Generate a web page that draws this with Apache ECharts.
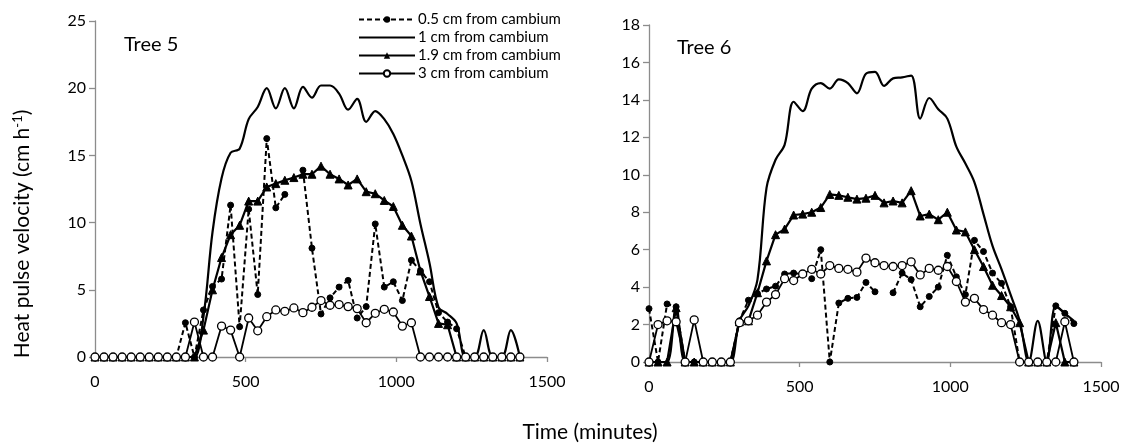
<!DOCTYPE html>
<html>
<head>
<meta charset="utf-8">
<script src="https://cdn.jsdelivr.net/npm/echarts@6/dist/echarts.min.js"></script>
<style>
  html, body { margin: 0; padding: 0; background: #fff; }
  #chart { width: 1131px; height: 447px; }
</style>
</head>
<body>
<div id="chart"></div>
<script>
// time of each reading (minutes)
var times = [0, 30, 60, 90, 120, 150, 180, 210, 240, 270, 300, 330, 360, 390, 420, 450,
  480, 510, 540, 570, 600, 630, 660, 690, 720, 750, 780, 810, 840, 870, 900, 930,
  960, 990, 1020, 1050, 1080, 1110, 1140, 1170, 1200, 1230, 1260, 1290, 1320, 1350, 1380, 1410];

var seriesNames = ['0.5 cm from cambium', '1 cm from cambium', '1.9 cm from cambium', '3 cm from cambium'];

// Tree 5
var tree5_05 = [0, 0, 0, 0, 0, 0, 0, 0, 0, 0, 2.55, 0, 3.5, 5.25, 5.8, 11.3,
  2.25, 11.0, 4.65, 16.25, 11.1, 12.1, null, 13.9, 8.1, 3.2, 4.4, 5.2, 5.7, 2.9, 3.75, 9.9,
  5.2, 5.6, 4.2, 7.2, 6.4, 5.6, 3.3, 2.6, 2.1, 0, 0, 0, 0, 0, 0, 0];
var tree5_1 = [0, 0, 0, 0, 0, 0, 0, 0, 0, 0, 0, 0, 3.0, 9.3, 13.3, 15.2,
  15.5, 17.7, 18.6, 20.0, 18.5, 20.0, 18.5, 20.1, 19.3, 20.2, 20.2, 19.6, 18.4, 19.2, 17.5, 18.3,
  17.7, 16.6, 15.0, 13.1, 9.9, 7.0, 3.7, 3.2, 2.5, 0, 0, 2.0, 0, 0, 2.0, 0];
var tree5_19 = [0, 0, 0, 0, 0, 0, 0, 0, 0, 0, 0, 0, 2.0, 5.0, 7.4, 9.1,
  9.8, 11.6, 11.6, 12.65, 12.9, 13.15, 13.35, 13.6, 13.6, 14.2, 13.6, 13.25, 12.8, 13.25, 12.3, 12.15,
  11.65, 11.2, 9.8, 9.0, 6.4, 4.5, 2.5, 2.4, 0, 0, 0, 0, 0, 0, 0, 0];
var tree5_3 = [0, 0, 0, 0, 0, 0, 0, 0, 0, 0, 0, 2.6, 0, 0, 2.3, 2.0,
  0, 2.9, 1.95, 3.0, 3.5, 3.4, 3.65, 3.3, 3.7, 4.2, 3.85, 3.9, 3.75, 3.6, 2.55, 3.25,
  3.55, 3.35, 2.3, 2.55, 0, 0, 0, 0, 0, 0, 0, 0, 0, 0, 0, 0];

// Tree 6
var tree6_05 = [2.85, 0, 3.1, 2.95, 0, 0, 0, 0, 0, 0, 2.2, 3.3, 3.65, 3.9, 4.05, 4.7,
  4.75, 4.7, 4.45, 6.0, 0, 3.15, 3.4, 3.45, 4.25, 3.75, null, 3.7, 4.75, 4.4, 2.95, 3.5,
  4.0, 5.7, 4.55, 3.6, 6.5, 5.9, 4.75, 4.2, 2.95, 0, 0, 0, 0, 3.0, 2.6, 2.05];
var tree6_1 = [0, 0, 0, 3.0, 0, 0, 0, 0, 0, 0, 2.2, 3.0, 4.4, 9.3, 10.8, 11.6,
  13.9, 13.4, 14.6, 14.9, 14.6, 15.1, 14.9, 14.35, 15.4, 15.5, 14.75, 15.15, 15.2, 15.3, 13.0, 14.1,
  13.5, 13.0, 11.5, 10.6, 9.6, 7.9, 6.2, 4.95, 3.6, 2.2, 0, 2.2, 0, 3.0, 2.6, 2.2];
var tree6_19 = [0, 0, 0, 2.9, 0, 0, 0, 0, 0, 0, 2.15, 2.2, 3.7, 5.4, 6.8, 7.1,
  7.85, 7.9, 8.0, 8.25, 8.95, 8.9, 8.8, 8.7, 8.75, 8.9, 8.5, 8.6, 8.5, 9.15, 7.8, 7.9,
  7.6, 8.0, 7.05, 6.95, 6.0, 5.1, 4.1, 3.55, 2.95, 2.1, 0, 0, 0, 2.1, 0, 0];
var tree6_3 = [0, 2.0, 2.2, 2.15, 0, 2.25, 0, 0, 0, 0, 2.1, 2.2, 2.5, 3.2, 3.6, 4.45,
  4.35, 4.7, 4.95, 4.7, 5.15, 5.0, 4.95, 4.8, 5.55, 5.3, 5.15, 5.1, 5.15, 5.35, 4.65, 5.0,
  4.9, 5.1, 4.3, 3.2, 3.4, 2.8, 2.5, 2.1, 2.0, 0, 0, 0, 0, 0, 2.15, 0];

var xTicks = [0, 500, 1000, 1500];

function pairs(vals) {
  return vals.map(function (v, i) { return [times[i], v]; });
}

var FONT = 'Lato';
var axisGray = '#8c8c8c';

// one set of four lines for a grid
function makeSeries(idx, vals) {
  return [
    {
      name: seriesNames[0], type: 'line', xAxisIndex: idx, yAxisIndex: idx,
      data: pairs(vals[0]),
      symbol: 'circle', symbolSize: 6,
      lineStyle: {color: '#000', width: 2, type: [5, 3]},
      itemStyle: {color: '#000', borderColor: '#000'},
      z: 2
    },
    {
      name: seriesNames[1], type: 'line', xAxisIndex: idx, yAxisIndex: idx,
      data: pairs(vals[1]),
      smooth: 0.35, symbol: 'none',
      lineStyle: {color: '#000', width: 2.2},
      itemStyle: {color: '#000'},
      z: 3
    },
    {
      name: seriesNames[2], type: 'line', xAxisIndex: idx, yAxisIndex: idx,
      data: pairs(vals[2]),
      symbol: 'triangle', symbolSize: 8,
      lineStyle: {color: '#000', width: 2.2},
      itemStyle: {color: '#000', borderColor: '#000'},
      z: 4
    },
    {
      name: seriesNames[3], type: 'line', xAxisIndex: idx, yAxisIndex: idx,
      data: pairs(vals[3]),
      symbol: 'circle', symbolSize: 8,
      lineStyle: {color: '#000', width: 1.8},
      itemStyle: {color: '#fff', borderColor: '#000', borderWidth: 1.3},
      z: 5
    }
  ];
}

function xAxisCfg(idx) {
  return {
    type: 'value', gridIndex: idx, min: 0, max: 1500, interval: 500,
    axisLine: {show: true, lineStyle: {color: axisGray, width: 1.3}},
    axisTick: {show: true, inside: false, length: 5, lineStyle: {color: axisGray, width: 1.3}},
    axisLabel: {color: '#000', fontFamily: FONT, fontSize: 16, margin: 17,
      formatter: function (v) { return xTicks.indexOf(v) >= 0 ? String(v) : ''; }},
    splitLine: {show: false}
  };
}

function yAxisCfg(idx, max, step) {
  return {
    type: 'value', gridIndex: idx, min: 0, max: max, interval: step,
    axisLine: {show: true, lineStyle: {color: axisGray, width: 1.3}},
    axisTick: {show: true, inside: false, length: 6, lineStyle: {color: axisGray, width: 1.3}},
    axisLabel: {color: '#000', fontFamily: FONT, fontSize: 16, margin: 9},
    splitLine: {show: false}
  };
}

var chart = echarts.init(document.getElementById('chart'), null, {renderer: 'canvas'});

var option = {
  backgroundColor: '#fff',
  animation: false,
  textStyle: {fontFamily: FONT},
  grid: [
    {left: 95, top: 21, width: 452, height: 336},
    {left: 649, top: 25, width: 452, height: 337}
  ],
  xAxis: [xAxisCfg(0), xAxisCfg(1)],
  yAxis: [yAxisCfg(0, 25, 5), yAxisCfg(1, 18, 2)],
  legend: {
    data: [
      seriesNames[0],
      {name: seriesNames[1], icon: 'path://M0,0H56V2.2H0Z'},
      seriesNames[2],
      seriesNames[3]
    ],
    orient: 'vertical',
    left: 358, top: 12,
    itemWidth: 56, itemHeight: 8, itemGap: 3,
    padding: 0,
    textStyle: {color: '#000', fontFamily: FONT, fontSize: 15, lineHeight: 15, padding: [0, 0, 0, -2]}
  },
  graphic: [
    {type: 'text', x: 124, y: 45,
      style: {text: 'Tree 5', font: '20px ' + FONT, fill: '#000', verticalAlign: 'middle'}},
    {type: 'text', x: 677, y: 48,
      style: {text: 'Tree 6', font: '20px ' + FONT, fill: '#000', verticalAlign: 'middle'}},
    {type: 'text', x: 590, y: 432,
      style: {text: 'Time (minutes)', font: '21px ' + FONT, fill: '#000', align: 'center', verticalAlign: 'middle'}},
    {type: 'text', x: 22, y: 234, rotation: Math.PI / 2,
      style: {
        text: 'Heat pulse velocity (cm h{sup|-1})',
        font: '21px ' + FONT, fill: '#000', align: 'center', verticalAlign: 'middle',
        rich: {sup: {fontSize: 13, fontFamily: FONT, fill: '#000', padding: [0, 0, 9, 0]}}
      }}
  ],
  series: makeSeries(0, [tree5_05, tree5_1, tree5_19, tree5_3])
    .concat(makeSeries(1, [tree6_05, tree6_1, tree6_19, tree6_3]))
};

chart.setOption(option);
</script>
</body>
</html>
